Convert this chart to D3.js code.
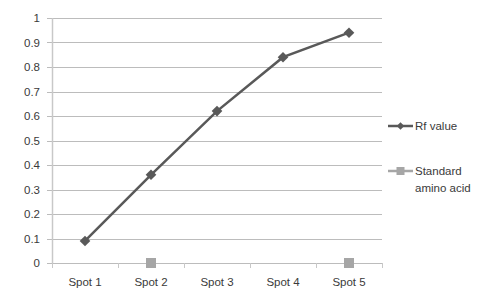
<!DOCTYPE html>
<html>
<head>
<meta charset="utf-8">
<script src="https://cdn.jsdelivr.net/npm/d3@7"></script>
<style>
  body { margin: 0; background: #fff; }
  text { font-family: "Liberation Sans", Arial, sans-serif; font-size: 11.5px; fill: #3a3a3a; }
</style>
</head>
<body>
<div id="chart"></div>
<script>
// Chart data
const spots = ["Spot 1", "Spot 2", "Spot 3", "Spot 4", "Spot 5"];
const rfValues = [0.09, 0.36, 0.62, 0.84, 0.94];
const standardValues = [null, 0, null, null, 0];
const yTicks = [0, 0.1, 0.2, 0.3, 0.4, 0.5, 0.6, 0.7, 0.8, 0.9, 1];

const width = 489, height = 307;
const margin = { left: 52, right: 107, top: 18, bottom: 44 };

const svg = d3.select("#chart").append("svg")
  .attr("width", width)
  .attr("height", height);

const x = d3.scaleBand()
  .domain(spots)
  .range([margin.left, width - margin.right]);

const y = d3.scaleLinear()
  .domain([0, 1])
  .range([height - margin.bottom, margin.top]);

// Gridlines
svg.append("g")
  .selectAll("line")
  .data(yTicks)
  .join("line")
  .attr("x1", margin.left - 5)
  .attr("x2", width - margin.right)
  .attr("y1", d => Math.round(y(d)) + 0.5)
  .attr("y2", d => Math.round(y(d)) + 0.5)
  .attr("stroke", "#bcbcbc")
  .attr("stroke-width", 1);

// Y axis line
svg.append("line")
  .attr("x1", margin.left + 0.5).attr("x2", margin.left + 0.5)
  .attr("y1", y(1)).attr("y2", y(0))
  .attr("stroke", "#c8c8c8")
  .attr("stroke-width", 1.5);

// Y labels
svg.append("g")
  .selectAll("text")
  .data(yTicks)
  .join("text")
  .attr("x", 40)
  .attr("y", d => y(d) + 4)
  .attr("text-anchor", "end")
  .text(d => d);

// X tick marks
const bounds = spots.map(s => x(s)).concat([x.range()[1]]);
svg.append("g")
  .selectAll("line")
  .data(bounds)
  .join("line")
  .attr("x1", d => Math.round(d) + 0.5)
  .attr("x2", d => Math.round(d) + 0.5)
  .attr("y1", y(0))
  .attr("y2", y(0) + 5)
  .attr("stroke", "#c8c8c8");

// X labels
svg.append("g")
  .selectAll("text")
  .data(spots)
  .join("text")
  .attr("x", d => x(d) + x.bandwidth() / 2)
  .attr("y", y(0) + 23)
  .attr("text-anchor", "middle")
  .text(d => d);

const cx = (d, i) => x(spots[i]) + x.bandwidth() / 2;

// Rf value line
const line = d3.line()
  .x((d, i) => cx(d, i))
  .y(d => y(d));

svg.append("path")
  .datum(rfValues)
  .attr("fill", "none")
  .attr("stroke", "#595959")
  .attr("stroke-width", 2.5)
  .attr("d", line);

const diamond = d3.symbol().type(d3.symbolDiamond2).size(72);
svg.append("g")
  .selectAll("path")
  .data(rfValues)
  .join("path")
  .attr("transform", (d, i) => `translate(${cx(d, i)},${y(d)})`)
  .attr("d", diamond)
  .attr("fill", "#595959");

// Standard amino acid markers
svg.append("g")
  .selectAll("rect")
  .data(standardValues.map((v, i) => ({ v, i })).filter(d => d.v !== null))
  .join("rect")
  .attr("x", d => cx(d.v, d.i) - 5)
  .attr("y", d => y(d.v) - 5)
  .attr("width", 10)
  .attr("height", 10)
  .attr("fill", "#a6a6a6");

// Legend
const legend = svg.append("g");
const lx = 388;
legend.append("line")
  .attr("x1", lx).attr("x2", lx + 25)
  .attr("y1", 126).attr("y2", 126)
  .attr("stroke", "#595959").attr("stroke-width", 2.5);
legend.append("path")
  .attr("transform", `translate(${lx + 12.5},126)`)
  .attr("d", d3.symbol().type(d3.symbolDiamond2).size(36))
  .attr("fill", "#595959");
legend.append("text").attr("x", lx + 27).attr("y", 130).text("Rf value");

legend.append("line")
  .attr("x1", lx).attr("x2", lx + 25)
  .attr("y1", 171).attr("y2", 171)
  .attr("stroke", "#a6a6a6").attr("stroke-width", 2.5);
legend.append("rect")
  .attr("x", lx + 8.5).attr("y", 167)
  .attr("width", 8).attr("height", 8)
  .attr("fill", "#a6a6a6");
legend.append("text").attr("x", lx + 27).attr("y", 175).text("Standard");
legend.append("text").attr("x", lx + 27).attr("y", 192).text("amino acid");
</script>
</body>
</html>
